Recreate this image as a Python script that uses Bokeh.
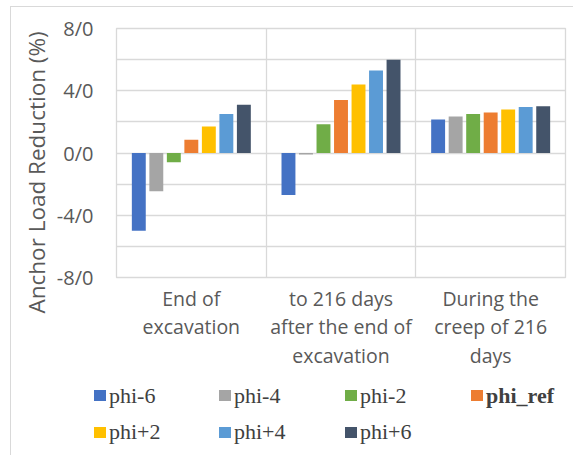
import numpy as np
from bokeh.plotting import figure
from bokeh.layouts import column
from bokeh.models import ColumnDataSource, FixedTicker, Range1d, Div, Title
from bokeh.transform import dodge
from bokeh.embed import file_html
from bokeh.resources import INLINE

categories = ["End of excavation",
              "to 216 days after the end of excavation",
              "During the creep of 216 days"]
category_labels = ["End of\nexcavation",
                   "to 216 days\nafter the end of\nexcavation",
                   "During the\ncreep of 216\ndays"]

series_names = ["phi-6", "phi-4", "phi-2", "phi_ref", "phi+2", "phi+4", "phi+6"]
phi_m6 = [-5.0, -2.7, 2.15]
phi_m4 = [-2.45, -0.1, 2.35]
phi_m2 = [-0.6, 1.85, 2.5]
phi_ref = [0.85, 3.4, 2.6]
phi_p2 = [1.7, 4.4, 2.8]
phi_p4 = [2.5, 5.3, 2.95]
phi_p6 = [3.1, 6.0, 3.0]
series_values = [phi_m6, phi_m4, phi_m2, phi_ref, phi_p2, phi_p4, phi_p6]
colors = ["#4472C4", "#A5A5A5", "#70AD47", "#ED7D31", "#FFC000", "#5B9BD5", "#44546A"]
bold_series = ["phi_ref"]

y_ticks = [-8, -4, 0, 4, 8]
y_tick_labels = ["-8/0", "-4/0", "0/0", "4/0", "8/0"]
y_title = "Anchor Load Reduction (%)"

GRID = "#d9d9d9"
TXT = "#595959"

n = len(categories)
data = {"xc": np.arange(n) + 0.5}
for name, vals in zip(series_names, series_values):
    data[name] = vals
source = ColumnDataSource(data)

p = figure(width=562, height=368, output_backend="svg", toolbar_location=None,
           x_range=Range1d(0, n), y_range=Range1d(-8, 8),
           min_border_left=105, min_border_right=8, min_border_top=21, min_border_bottom=98)

p.outline_line_color = GRID
p.outline_line_width = 1.3
p.xgrid.ticker = FixedTicker(ticks=list(range(0, n + 1)))
p.ygrid.ticker = FixedTicker(ticks=list(range(-8, 9, 2)))
p.grid.grid_line_color = GRID
p.grid.grid_line_width = 1.3

p.xaxis.ticker = FixedTicker(ticks=[i + 0.5 for i in range(n)])
p.xaxis.major_label_overrides = {i + 0.5: lab for i, lab in enumerate(category_labels)}
p.yaxis.ticker = FixedTicker(ticks=y_ticks)
p.yaxis.major_label_overrides = {t: l for t, l in zip(y_ticks, y_tick_labels)}
for ax in (p.xaxis, p.yaxis):
    ax.axis_line_color = None
    ax.major_tick_line_color = None
    ax.minor_tick_line_color = None
    ax.major_tick_out = 0
    ax.major_label_text_font = "Open Sans"
    ax.major_label_text_color = TXT
p.xaxis.major_label_text_font_size = "19.5px"
p.xaxis.major_label_text_line_height = 1.06
p.xaxis.major_label_standoff = 7
p.yaxis.major_label_text_font_size = "20px"
p.yaxis.major_label_standoff = 23

# y-axis title as a side title (start anchored below the frame bottom)
p.add_layout(Title(text=y_title, align="left", offset=-36, standoff=3,
                   text_font="Open Sans", text_font_size="22.5px",
                   text_font_style="normal", text_color=TXT), "left")

pitch = 0.117
bw = 0.093
for i, (name, col) in enumerate(zip(series_names, colors)):
    p.vbar(x=dodge("xc", (i - 3) * pitch), top=name, bottom=0, width=bw,
           source=source, fill_color=col, line_color=None)

# legend (HTML), 4 columns x 2 rows
col_x = [78, 203, 329, 455]
row_c = [15.5, 52]
items = []
for i, (name, col) in enumerate(zip(series_names, colors)):
    row, c = divmod(i, 4)
    weight = "bold" if name in bold_series else "normal"
    items.append(
        f'<div style="position:absolute;left:{col_x[c]}px;top:{row_c[row] - 13}px;height:26px;'
        f'display:flex;align-items:center;white-space:nowrap;">'
        f'<span style="display:inline-block;width:12px;height:11px;background:{col};margin-right:3px;"></span>'
        f'<span style="font-weight:{weight};">{name}</span></div>'
    )
legend_html = ('<div style="position:relative;width:562px;height:80px;'
               'font-family:\'Liberation Serif\';font-size:22px;line-height:26px;color:#404040;">'
               + "".join(items) + "</div>")
legend_div = Div(text=legend_html, width=562, height=80)

layout = column(p, legend_div, spacing=0,
                styles={"margin-left": "10px", "margin-top": "6px",
                        "border-top": "1px solid #d9d9d9", "border-left": "1px solid #d9d9d9"})

open("out.html", "w").write(file_html(layout, INLINE))
